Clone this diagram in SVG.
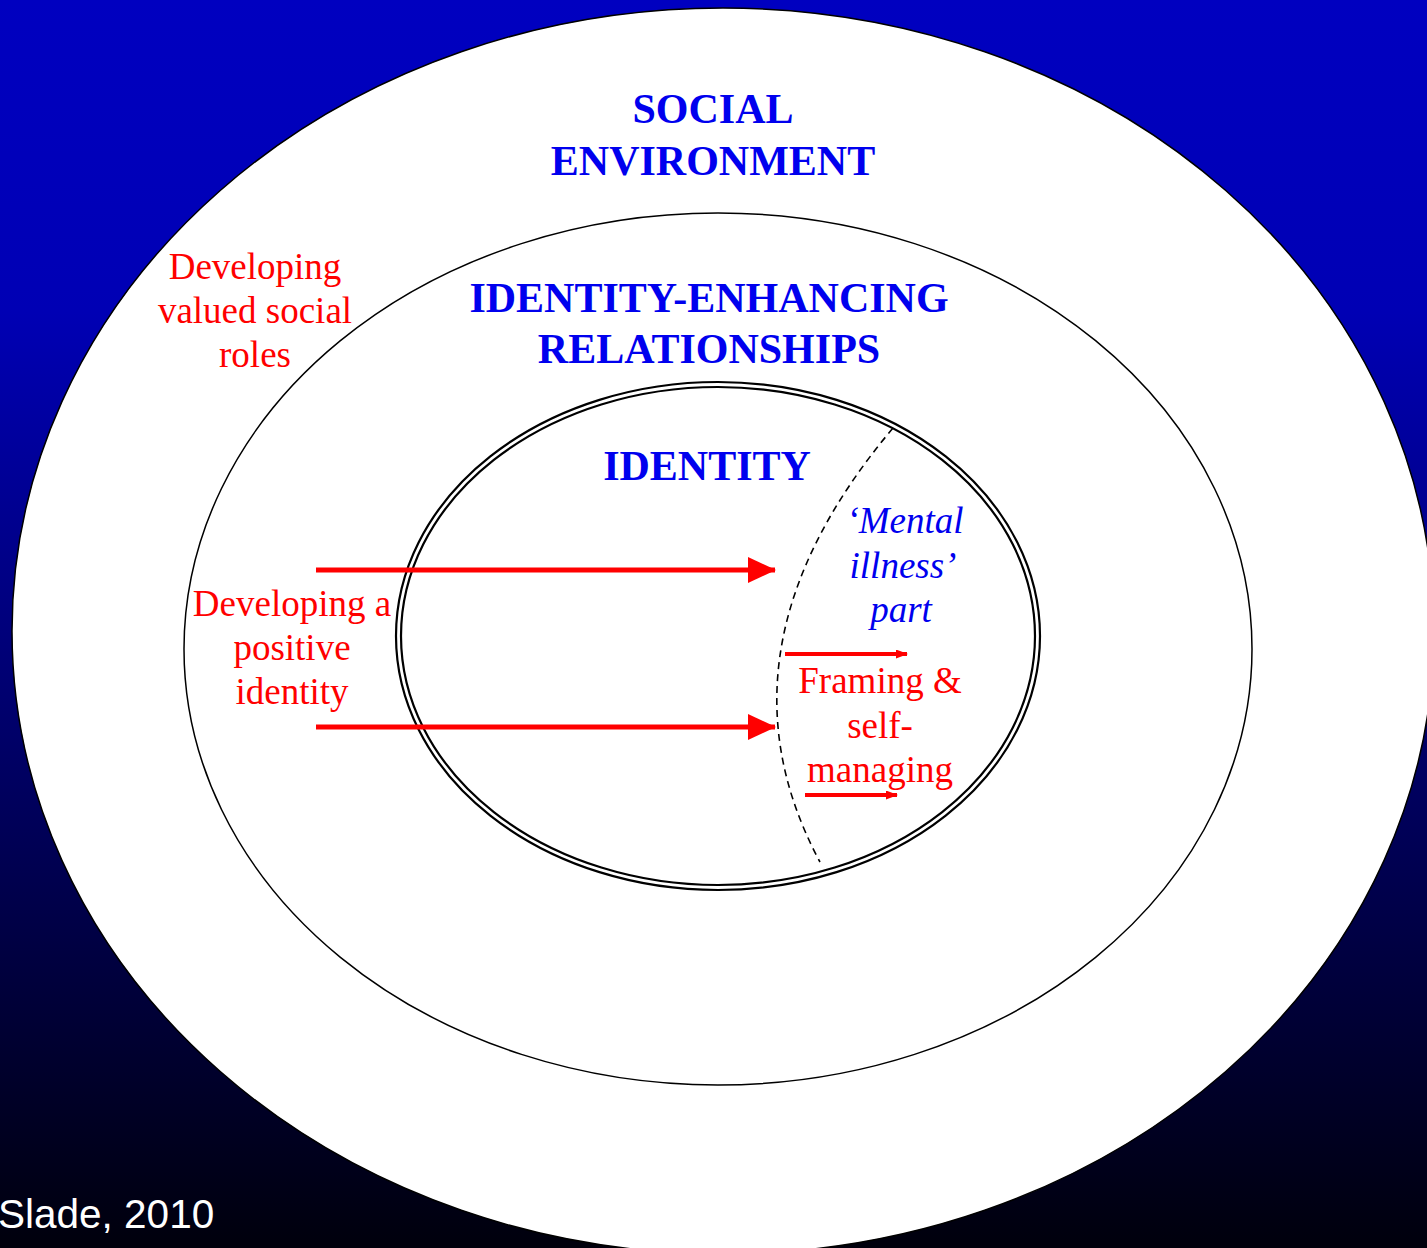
<svg xmlns="http://www.w3.org/2000/svg" width="1427" height="1248" viewBox="0 0 1427 1248">
<defs>
<linearGradient id="bg" x1="0" y1="0" x2="0" y2="1">
<stop offset="0" stop-color="#0000C0"/>
<stop offset="0.25" stop-color="#0000B4"/>
<stop offset="1" stop-color="#00000C"/>
</linearGradient>
<marker id="bigHead" viewBox="0 0 28 26" refX="27" refY="13" markerWidth="28" markerHeight="26" markerUnits="userSpaceOnUse" orient="auto">
<path d="M0,0 L28,13 L0,26 Z" fill="#FF0000"/>
</marker>
<marker id="smallHead" viewBox="0 0 12 9" refX="11" refY="4.5" markerWidth="12" markerHeight="9" markerUnits="userSpaceOnUse" orient="auto">
<path d="M0,0 L12,4.5 L0,9 Z" fill="#FF0000"/>
</marker>
</defs>
<style>
.ring{fill:#FFFFFF;stroke:#000000;stroke-width:1.5}
.dbl{fill:none;stroke:#000000;stroke-width:2.2}
.title{font-family:"Liberation Serif","Times New Roman",serif;font-weight:bold;font-size:42px;fill:#0000EE;text-anchor:middle}
.red{font-family:"Liberation Serif","Times New Roman",serif;font-size:37px;fill:#FF0000;text-anchor:middle}
.ital{font-family:"Liberation Serif","Times New Roman",serif;font-style:italic;font-size:37px;fill:#0000EE;text-anchor:middle}
.big{stroke:#FF0000;stroke-width:5;fill:none}
.small{stroke:#FF0000;stroke-width:4;fill:none}
</style>
<rect x="0" y="0" width="1427" height="1248" fill="url(#bg)"/>
<g id="social-environment">
<ellipse class="ring" cx="723" cy="631" rx="711" ry="623"/>
<text class="title" x="713" y="123">SOCIAL</text>
<text class="title" x="713" y="175">ENVIRONMENT</text>
</g>
<g id="identity-enhancing-relationships">
<ellipse class="ring" cx="718" cy="649" rx="534" ry="436"/>
<text class="title" x="709" y="312">IDENTITY-ENHANCING</text>
<text class="title" x="709" y="363">RELATIONSHIPS</text>
</g>
<g id="identity">
<ellipse cx="718" cy="636" rx="322" ry="254" fill="#FFFFFF"/>
<ellipse class="dbl" cx="718" cy="636" rx="322" ry="254"/>
<ellipse class="dbl" cx="718" cy="636" rx="317" ry="249"/>
<text class="title" x="707" y="480">IDENTITY</text>
</g>
<g id="mental-illness-part">
<path d="M893,428 Q706,650 820,862" fill="none" stroke="#000000" stroke-width="1.6" stroke-dasharray="7,5"/>
<text class="ital" x="905" y="533">‘Mental</text>
<text class="ital" x="903" y="578">illness’</text>
<text class="ital" x="901" y="622">part</text>
</g>
<g id="developing-valued-social-roles">
<text class="red" x="255" y="279">Developing</text>
<text class="red" x="255" y="323">valued social</text>
<text class="red" x="255" y="367">roles</text>
</g>
<g id="developing-positive-identity">
<text class="red" x="292" y="616">Developing a</text>
<text class="red" x="292" y="660">positive</text>
<text class="red" x="292" y="704">identity</text>
</g>
<g id="framing-self-managing">
<text class="red" x="880" y="693">Framing &amp;</text>
<text class="red" x="880" y="738">self-</text>
<text class="red" x="880" y="782">managing</text>
</g>
<g id="connectors">
<line class="big" x1="316" y1="570" x2="775" y2="570" marker-end="url(#bigHead)"/>
<line class="big" x1="316" y1="727" x2="775" y2="727" marker-end="url(#bigHead)"/>
<line class="small" x1="785" y1="654" x2="907" y2="654" marker-end="url(#smallHead)"/>
<line class="small" x1="805" y1="795" x2="897" y2="795" marker-end="url(#smallHead)"/>
</g>
<text x="-2" y="1228" font-family="Liberation Sans, Arial, sans-serif" font-size="40.5" fill="#FFFFFF">Slade, 2010</text>
</svg>
